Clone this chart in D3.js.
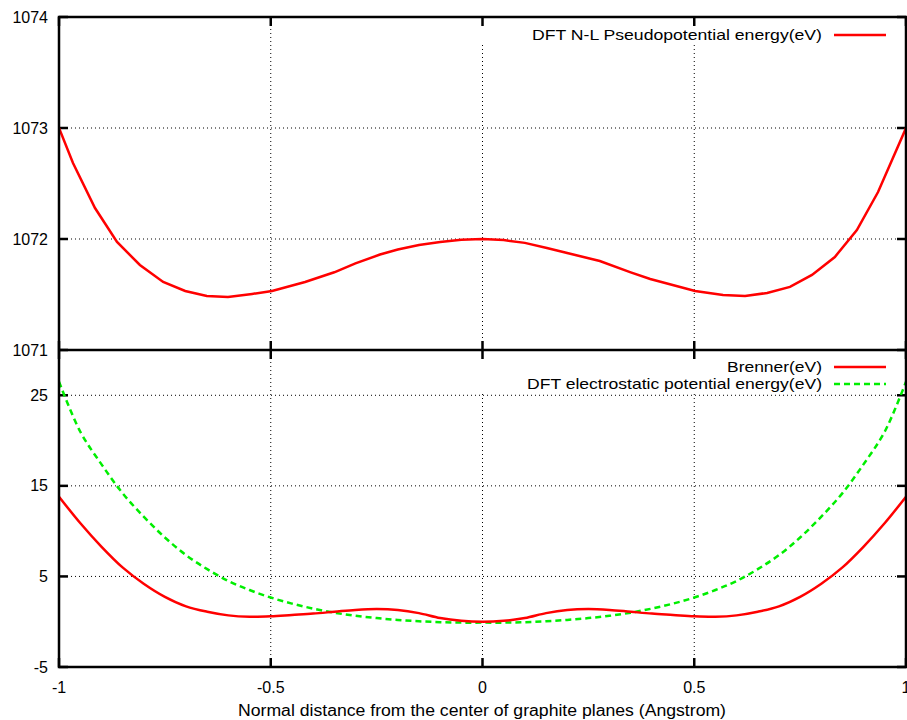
<!DOCTYPE html>
<html>
<head>
<meta charset="utf-8">
<script src="https://cdn.jsdelivr.net/npm/d3@7"></script>
<style>
  body { margin: 0; background: #fff; }
  text { font-family: "Liberation Sans", Arial, sans-serif; font-size: 16px; fill: #000; }
</style>
</head>
<body>
<svg width="907" height="720"></svg>
<script>
// top panel: DFT non-local pseudopotential energy
const pseudoX = [-1, -0.967, -0.915, -0.863, -0.809, -0.754, -0.702, -0.651, -0.601, -0.544, -0.497, -0.419, -0.35, -0.3, -0.242, -0.2, -0.15, -0.1, -0.05, 0, 0.05, 0.1, 0.152, 0.2, 0.277, 0.35, 0.396, 0.502, 0.568, 0.62, 0.672, 0.726, 0.778, 0.832, 0.884, 0.934, 1];
const pseudoE = [1073.0, 1072.685, 1072.279, 1071.973, 1071.766, 1071.613, 1071.532, 1071.486, 1071.477, 1071.505, 1071.532, 1071.613, 1071.70, 1071.78, 1071.86, 1071.905, 1071.946, 1071.973, 1071.993, 1072.0, 1071.99, 1071.965, 1071.919, 1071.874, 1071.802, 1071.70, 1071.640, 1071.532, 1071.495, 1071.486, 1071.514, 1071.568, 1071.676, 1071.838, 1072.081, 1072.423, 1073.0];

// bottom panel: Brenner + DFT electrostatic
const distX = [-1, -0.95, -0.9, -0.85, -0.8, -0.75, -0.7, -0.65, -0.6, -0.55, -0.5, -0.45, -0.4, -0.35, -0.3, -0.25, -0.2, -0.15, -0.1, -0.05, 0,
  0.05, 0.1, 0.15, 0.2, 0.25, 0.3, 0.35, 0.4, 0.45, 0.5, 0.55, 0.6, 0.65, 0.7, 0.75, 0.8, 0.85, 0.9, 0.95, 1];
const brenner = [13.8, 10.9, 8.3, 6.0, 4.2, 2.75, 1.7, 1.1, 0.7, 0.55, 0.6, 0.75, 0.9, 1.1, 1.3, 1.4, 1.3, 0.95, 0.4, 0.1, 0.0,
  0.1, 0.4, 0.95, 1.3, 1.4, 1.3, 1.1, 0.9, 0.75, 0.6, 0.55, 0.7, 1.1, 1.7, 2.75, 4.2, 6.0, 8.3, 10.9, 13.8];
const electro = [26.5, 21.0, 17.4, 14.2, 11.6, 9.3, 7.35, 5.8, 4.5, 3.5, 2.67, 2.0, 1.45, 1.0, 0.65, 0.4, 0.2, 0.05, -0.05, -0.1, -0.1,
  -0.1, -0.05, 0.05, 0.2, 0.4, 0.65, 1.0, 1.45, 2.0, 2.67, 3.5, 4.5, 5.8, 7.35, 9.3, 11.6, 14.2, 17.4, 21.0, 26.5];

const xTicks = [-1, -0.5, 0, 0.5, 1];
const topTicks = [1071, 1072, 1073, 1074];
const botTicks = [-5, 5, 15, 25];

const left = 59, right = 906;
const svg = d3.select("svg");

const x = d3.scaleLinear().domain([-1, 1]).range([left, right]);
const yTop = d3.scaleLinear().domain([1071, 1074]).range([350, 17]);
const yBot = d3.scaleLinear().domain([-5, 30]).range([667, 350]);

function panel(y, yticks, gridY, keyBox, id) {
  const [y0, y1] = y.range(); // bottom, top
  const g = svg.append("g");

  // grid
  gridY.forEach(t => {
    g.append("line").attr("x1", left).attr("x2", right).attr("y1", y(t)).attr("y2", y(t))
      .attr("stroke", "#000").attr("stroke-width", 1).attr("stroke-dasharray", "1,3");
  });
  [-0.5, 0, 0.5].forEach(t => {
    g.append("line").attr("x1", x(t)).attr("x2", x(t)).attr("y1", y0).attr("y2", y1)
      .attr("stroke", "#000").attr("stroke-width", 1).attr("stroke-dasharray", "1,3");
  });

  // opaque key area
  g.append("rect").attr("x", keyBox[0]).attr("y", y1 + 2).attr("width", right - 2 - keyBox[0])
    .attr("height", keyBox[1]).attr("fill", "#fff");

  svg.append("clipPath").attr("id", id).append("rect")
    .attr("x", left).attr("y", y1).attr("width", right - left).attr("height", y0 - y1);

  // ticks
  yticks.forEach(t => {
    g.append("line").attr("x1", left).attr("x2", left + 9).attr("y1", y(t)).attr("y2", y(t))
      .attr("stroke", "#000").attr("stroke-width", 2.5);
    g.append("line").attr("x1", right - 9).attr("x2", right).attr("y1", y(t)).attr("y2", y(t))
      .attr("stroke", "#000").attr("stroke-width", 2.5);
    g.append("text").attr("x", 48).attr("y", y(t)).attr("dy", "0.35em")
      .attr("text-anchor", "end").text(t);
  });
  xTicks.forEach(t => {
    g.append("line").attr("x1", x(t)).attr("x2", x(t)).attr("y1", y0).attr("y2", y0 - 9)
      .attr("stroke", "#000").attr("stroke-width", 2.5);
    g.append("line").attr("x1", x(t)).attr("x2", x(t)).attr("y1", y1).attr("y2", y1 + 9)
      .attr("stroke", "#000").attr("stroke-width", 2.5);
  });
  return g;
}

const gTop = panel(yTop, topTicks, [1072, 1073], [470, 26], "clipTop");
const gBot = panel(yBot, botTicks, [5, 15, 25], [470, 42], "clipBot");

// curves
const lineTop = d3.line().x(d => x(d[0])).y(d => yTop(d[1]));
svg.append("path").attr("clip-path", "url(#clipTop)")
  .attr("d", lineTop(d3.zip(pseudoX, pseudoE)))
  .attr("fill", "none").attr("stroke", "#ff0000").attr("stroke-width", 2.5);

const lineBot = d3.line().x(d => x(d[0])).y(d => yBot(d[1])).curve(d3.curveCatmullRom);
svg.append("path").attr("clip-path", "url(#clipBot)")
  .attr("d", lineBot(d3.zip(distX, electro)))
  .attr("fill", "none").attr("stroke", "#00ee00").attr("stroke-width", 2.5).attr("stroke-dasharray", "6,4");
svg.append("path").attr("clip-path", "url(#clipBot)")
  .attr("d", lineBot(d3.zip(distX, brenner)))
  .attr("fill", "none").attr("stroke", "#ff0000").attr("stroke-width", 2.5);

// legends
function key(label, yy, width, color, dash) {
  svg.append("text").attr("x", 822).attr("y", yy).attr("dy", "0.35em").attr("text-anchor", "end")
    .style("font-size", "15px").attr("textLength", width).attr("lengthAdjust", "spacingAndGlyphs").text(label);
  svg.append("line").attr("x1", 834).attr("x2", 886).attr("y1", yy).attr("y2", yy)
    .attr("stroke", color).attr("stroke-width", 2.5).attr("stroke-dasharray", dash);
}
key("DFT N-L Pseudopotential energy(eV)", 35, 290, "#ff0000", null);
key("Brenner(eV)", 367, 95, "#ff0000", null);
key("DFT electrostatic potential energy(eV)", 384, 295, "#00ee00", "6,4");

// borders
svg.append("rect").attr("x", left).attr("y", 17).attr("width", right - left).attr("height", 650)
  .attr("fill", "none").attr("stroke", "#000").attr("stroke-width", 2.5);
svg.append("line").attr("x1", left).attr("x2", right).attr("y1", 350).attr("y2", 350)
  .attr("stroke", "#000").attr("stroke-width", 2.5);

// x tick labels and title
xTicks.forEach(t => {
  svg.append("text").attr("x", x(t)).attr("y", 693).attr("text-anchor", "middle").text(t);
});
svg.append("text").attr("x", 482).attr("y", 716).attr("text-anchor", "middle")
  .attr("textLength", 488).attr("lengthAdjust", "spacingAndGlyphs")
  .text("Normal distance from the center of graphite planes (Angstrom)");
</script>
</body>
</html>
